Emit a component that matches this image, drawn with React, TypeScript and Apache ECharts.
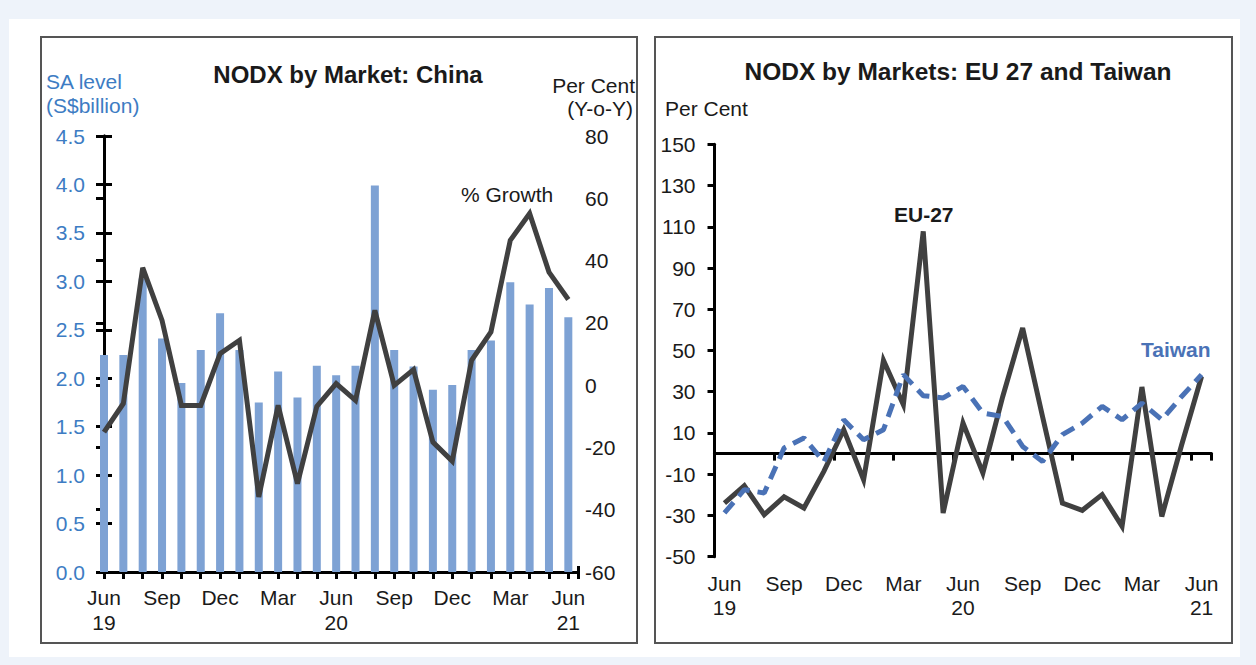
import React, { useEffect, useRef } from "react";
import * as echarts from "echarts";

// ---- Data ----
const periods = [
  "Jun 19", "Jul 19", "Aug 19", "Sep 19", "Oct 19", "Nov 19", "Dec 19",
  "Jan 20", "Feb 20", "Mar 20", "Apr 20", "May 20", "Jun 20", "Jul 20",
  "Aug 20", "Sep 20", "Oct 20", "Nov 20", "Dec 20", "Jan 21", "Feb 21",
  "Mar 21", "Apr 21", "May 21", "Jun 21",
];
// China NODX, SA level (S$billion)
const chinaLevel = [
  2.24, 2.24, 3.03, 2.41, 1.95, 2.29, 2.67, 2.29, 1.75, 2.07, 1.8, 2.13, 2.03,
  2.13, 3.99, 2.29, 2.12, 1.88, 1.93, 2.29, 2.39, 2.99, 2.76, 2.93, 2.63,
];
// China NODX, % growth (Y-o-Y)
const chinaGrowth = [
  -15.1, -5.9, 37.7, 20.8, -6.5, -6.5, 10.1, 14.4, -35.9, -6.5, -31.6, -6.8,
  0.5, -4.9, 24.0, -0.1, 5.0, -18.3, -24.4, 8.0, 17.1, 46.5, 55.1, 36.3, 27.5,
];
// EU-27 NODX growth, per cent
const eu27Growth = [
  -24.0, -15.6, -29.6, -21.0, -26.4, -8.6, 11.6, -12.7, 45.2, 23.7, 107.8,
  -28.8, 14.8, -9.4, 27.7, 60.9, 18.0, -24.0, -27.5, -19.9, -35.3, 32.3,
  -30.5, 4.3, 37.4,
];
// Taiwan NODX growth, per cent
const taiwanGrowth = [
  -28.8, -17.5, -19.1, 2.7, 7.6, -4.0, 16.4, 6.7, 11.6, 38.3, 28.1, 27.0,
  32.6, 19.7, 18.0, 3.5, -3.8, 9.2, 14.8, 22.9, 16.4, 24.5, 16.4, 27.7, 38.3,
];
const rightTicks = [-50, -30, -10, 10, 30, 50, 70, 90, 110, 130, 150];

const FONT = "'Liberation Sans', Arial, Helvetica, sans-serif";
const BAR = "#7ea2d4";
const LINE = "#404040";
const BLUE_TXT = "#3d7cc3";
const TW = "#4a72b6";
const TXT = "#1a1a1a";

function periodLabel(p: string): string {
  const [m, y] = p.split(" ");
  return m === "Jun" ? m + "\n" + y : m;
}

export default function App() {
  const ref = useRef<HTMLDivElement>(null);

  useEffect(() => {
    if (!ref.current) return;
    const chart = echarts.init(ref.current, undefined, { renderer: "svg" });

    const axisLineStyle = { color: "#000", width: 3 };
    const labelBase = { fontFamily: FONT, fontSize: 21, color: TXT };

    const leftXFormatter = (val: number) => {
      if (Number.isInteger(val) && val % 3 === 0 && periods[val]) {
        return periodLabel(periods[val]);
      }
      return "";
    };

    const option: any = {
      animation: false,
      grid: [
        { left: 104, top: 136, width: 474, height: 436 },
        { left: 714.5, top: 144.3, width: 497, height: 412.4 },
      ],
      xAxis: [
        {
          type: "value",
          gridIndex: 0,
          min: 0,
          max: 24.5,
          interval: 1,
          position: "bottom",
          splitLine: { show: false },
          axisLine: { show: true, onZero: false, lineStyle: axisLineStyle },
          axisTick: { show: true, length: 7, lineStyle: { color: "#000", width: 3 } },
          axisLabel: {
            ...labelBase,
            margin: 13,
            lineHeight: 25,
            formatter: leftXFormatter,
            showMinLabel: true,
            showMaxLabel: true,
          },
        },
        {
          type: "value",
          gridIndex: 0,
          min: 0,
          max: 24.5,
          interval: 1,
          position: "bottom",
          splitLine: { show: false },
          axisLine: { show: false, onZero: false },
          axisTick: { show: true, inside: true, length: 6, lineStyle: { color: "#000", width: 3 } },
          axisLabel: { show: false },
        },
        {
          type: "category",
          gridIndex: 1,
          data: periods,
          boundaryGap: true,
          position: "bottom",
          axisLine: { show: true, onZero: true, lineStyle: axisLineStyle },
          axisTick: { show: true, length: 7, lineStyle: { color: "#000", width: 3 } },
          axisLabel: { show: false },
          splitLine: { show: false },
        },
        {
          type: "category",
          gridIndex: 1,
          data: periods,
          boundaryGap: true,
          position: "bottom",
          axisLine: { show: false, onZero: false },
          axisTick: { show: false },
          axisLabel: {
            ...labelBase,
            margin: 15,
            lineHeight: 24,
            interval: 0,
            formatter: (v: string, i: number) => (i % 3 === 0 ? periodLabel(v) : ""),
          },
          splitLine: { show: false },
        },
      ],
      yAxis: [
        {
          type: "value",
          gridIndex: 0,
          position: "left",
          min: 0,
          max: 4.5,
          interval: 0.5,
          splitLine: { show: false },
          axisLine: { show: true, lineStyle: axisLineStyle },
          axisTick: { show: true, length: 8, lineStyle: { color: "#000", width: 3 } },
          axisLabel: {
            ...labelBase,
            color: BLUE_TXT,
            margin: 19,
            formatter: (v: number) => v.toFixed(1),
          },
        },
        {
          type: "value",
          gridIndex: 0,
          position: "right",
          min: -60,
          max: 80,
          interval: 20,
          splitLine: { show: false },
          axisLine: { show: true, lineStyle: axisLineStyle },
          axisTick: { show: true, inside: true, length: 8, lineStyle: { color: "#000", width: 3 } },
          axisLabel: { ...labelBase, margin: 7 },
        },
        {
          type: "value",
          gridIndex: 0,
          position: "left",
          min: 0,
          max: 4.5,
          interval: 0.5,
          splitLine: { show: false },
          axisLine: { show: false },
          axisTick: { show: true, inside: true, length: 8, lineStyle: { color: "#000", width: 3 } },
          axisLabel: { show: false },
        },
        {
          type: "value",
          gridIndex: 1,
          position: "left",
          min: -50,
          max: 150,
          splitLine: { show: false },
          axisLine: { show: true, lineStyle: axisLineStyle },
          axisTick: {
            show: true,
            length: 7,
            customValues: rightTicks,
            lineStyle: { color: "#000", width: 3 },
          },
          axisLabel: { ...labelBase, margin: 19, customValues: rightTicks },
        },
      ],
      series: [
        {
          name: "SA level",
          type: "bar",
          xAxisIndex: 0,
          yAxisIndex: 0,
          barWidth: 8,
          itemStyle: { color: BAR },
          data: chinaLevel.map((v, i) => [i, v]),
          z: 1,
        },
        {
          name: "% Growth",
          type: "line",
          xAxisIndex: 0,
          yAxisIndex: 1,
          symbol: "none",
          lineStyle: { color: LINE, width: 5, join: "miter", miterLimit: 4 },
          data: chinaGrowth.map((v, i) => [i, v]),
          z: 3,
        },
        {
          name: "EU-27",
          type: "line",
          xAxisIndex: 2,
          yAxisIndex: 3,
          symbol: "none",
          lineStyle: { color: LINE, width: 5, join: "miter", miterLimit: 4 },
          data: eu27Growth,
          z: 3,
        },
        {
          name: "Taiwan",
          type: "line",
          xAxisIndex: 2,
          yAxisIndex: 3,
          symbol: "none",
          lineStyle: { color: TW, width: 5, type: [14, 8] },
          data: taiwanGrowth,
          z: 4,
        },
      ],
      graphic: [
        {
          type: "text",
          left: 46,
          top: 71,
          style: { text: "SA level", fill: BLUE_TXT, font: `21px ${FONT}` },
        },
        {
          type: "text",
          left: 46,
          top: 95,
          style: { text: "(S$billion)", fill: BLUE_TXT, font: `21px ${FONT}` },
        },
        {
          type: "text",
          x: 348,
          y: 74,
          style: {
            text: "NODX by Market: China",
            fill: TXT,
            font: `bold 24px ${FONT}`,
            align: "center",
            verticalAlign: "middle",
          },
        },
        {
          type: "text",
          x: 635,
          y: 85,
          style: { text: "Per Cent", fill: TXT, font: `21px ${FONT}`, align: "right", verticalAlign: "middle" },
        },
        {
          type: "text",
          x: 633,
          y: 108,
          style: { text: "(Y-o-Y)", fill: TXT, font: `21px ${FONT}`, align: "right", verticalAlign: "middle" },
        },
        {
          type: "text",
          x: 461,
          y: 194,
          style: { text: "% Growth", fill: TXT, font: `21px ${FONT}`, align: "left", verticalAlign: "middle" },
        },
        {
          type: "text",
          x: 958,
          y: 71,
          style: {
            text: "NODX by Markets: EU 27 and Taiwan",
            fill: TXT,
            font: `bold 24.5px ${FONT}`,
            align: "center",
            verticalAlign: "middle",
          },
        },
        {
          type: "text",
          x: 665,
          y: 108,
          style: { text: "Per Cent", fill: TXT, font: `21px ${FONT}`, align: "left", verticalAlign: "middle" },
        },
        {
          type: "text",
          x: 894,
          y: 214,
          style: { text: "EU-27", fill: TXT, font: `bold 21px ${FONT}`, align: "left", verticalAlign: "middle" },
        },
        {
          type: "text",
          x: 1141,
          y: 349,
          style: { text: "Taiwan", fill: TW, font: `bold 21px ${FONT}`, align: "left", verticalAlign: "middle" },
        },
      ],
    };

    chart.setOption(option);
    return () => chart.dispose();
  }, []);

  return (
    <div
      style={{
        position: "absolute",
        left: 0,
        top: 0,
        width: 1256,
        height: 665,
        background: "#eef3fa",
        overflow: "hidden",
      }}
    >
      <div
        style={{
          position: "absolute",
          left: 9,
          top: 19,
          width: 1231,
          height: 638,
          background: "#ffffff",
        }}
      />
      <div
        style={{
          position: "absolute",
          left: 40,
          top: 36,
          width: 598,
          height: 608,
          border: "2px solid #555",
          background: "#fff",
          boxSizing: "border-box",
        }}
      />
      <div
        style={{
          position: "absolute",
          left: 654,
          top: 36,
          width: 579,
          height: 608,
          border: "2px solid #555",
          background: "#fff",
          boxSizing: "border-box",
        }}
      />
      <div
        ref={ref}
        style={{ position: "absolute", left: 0, top: 0, width: 1256, height: 665 }}
      />
    </div>
  );
}
